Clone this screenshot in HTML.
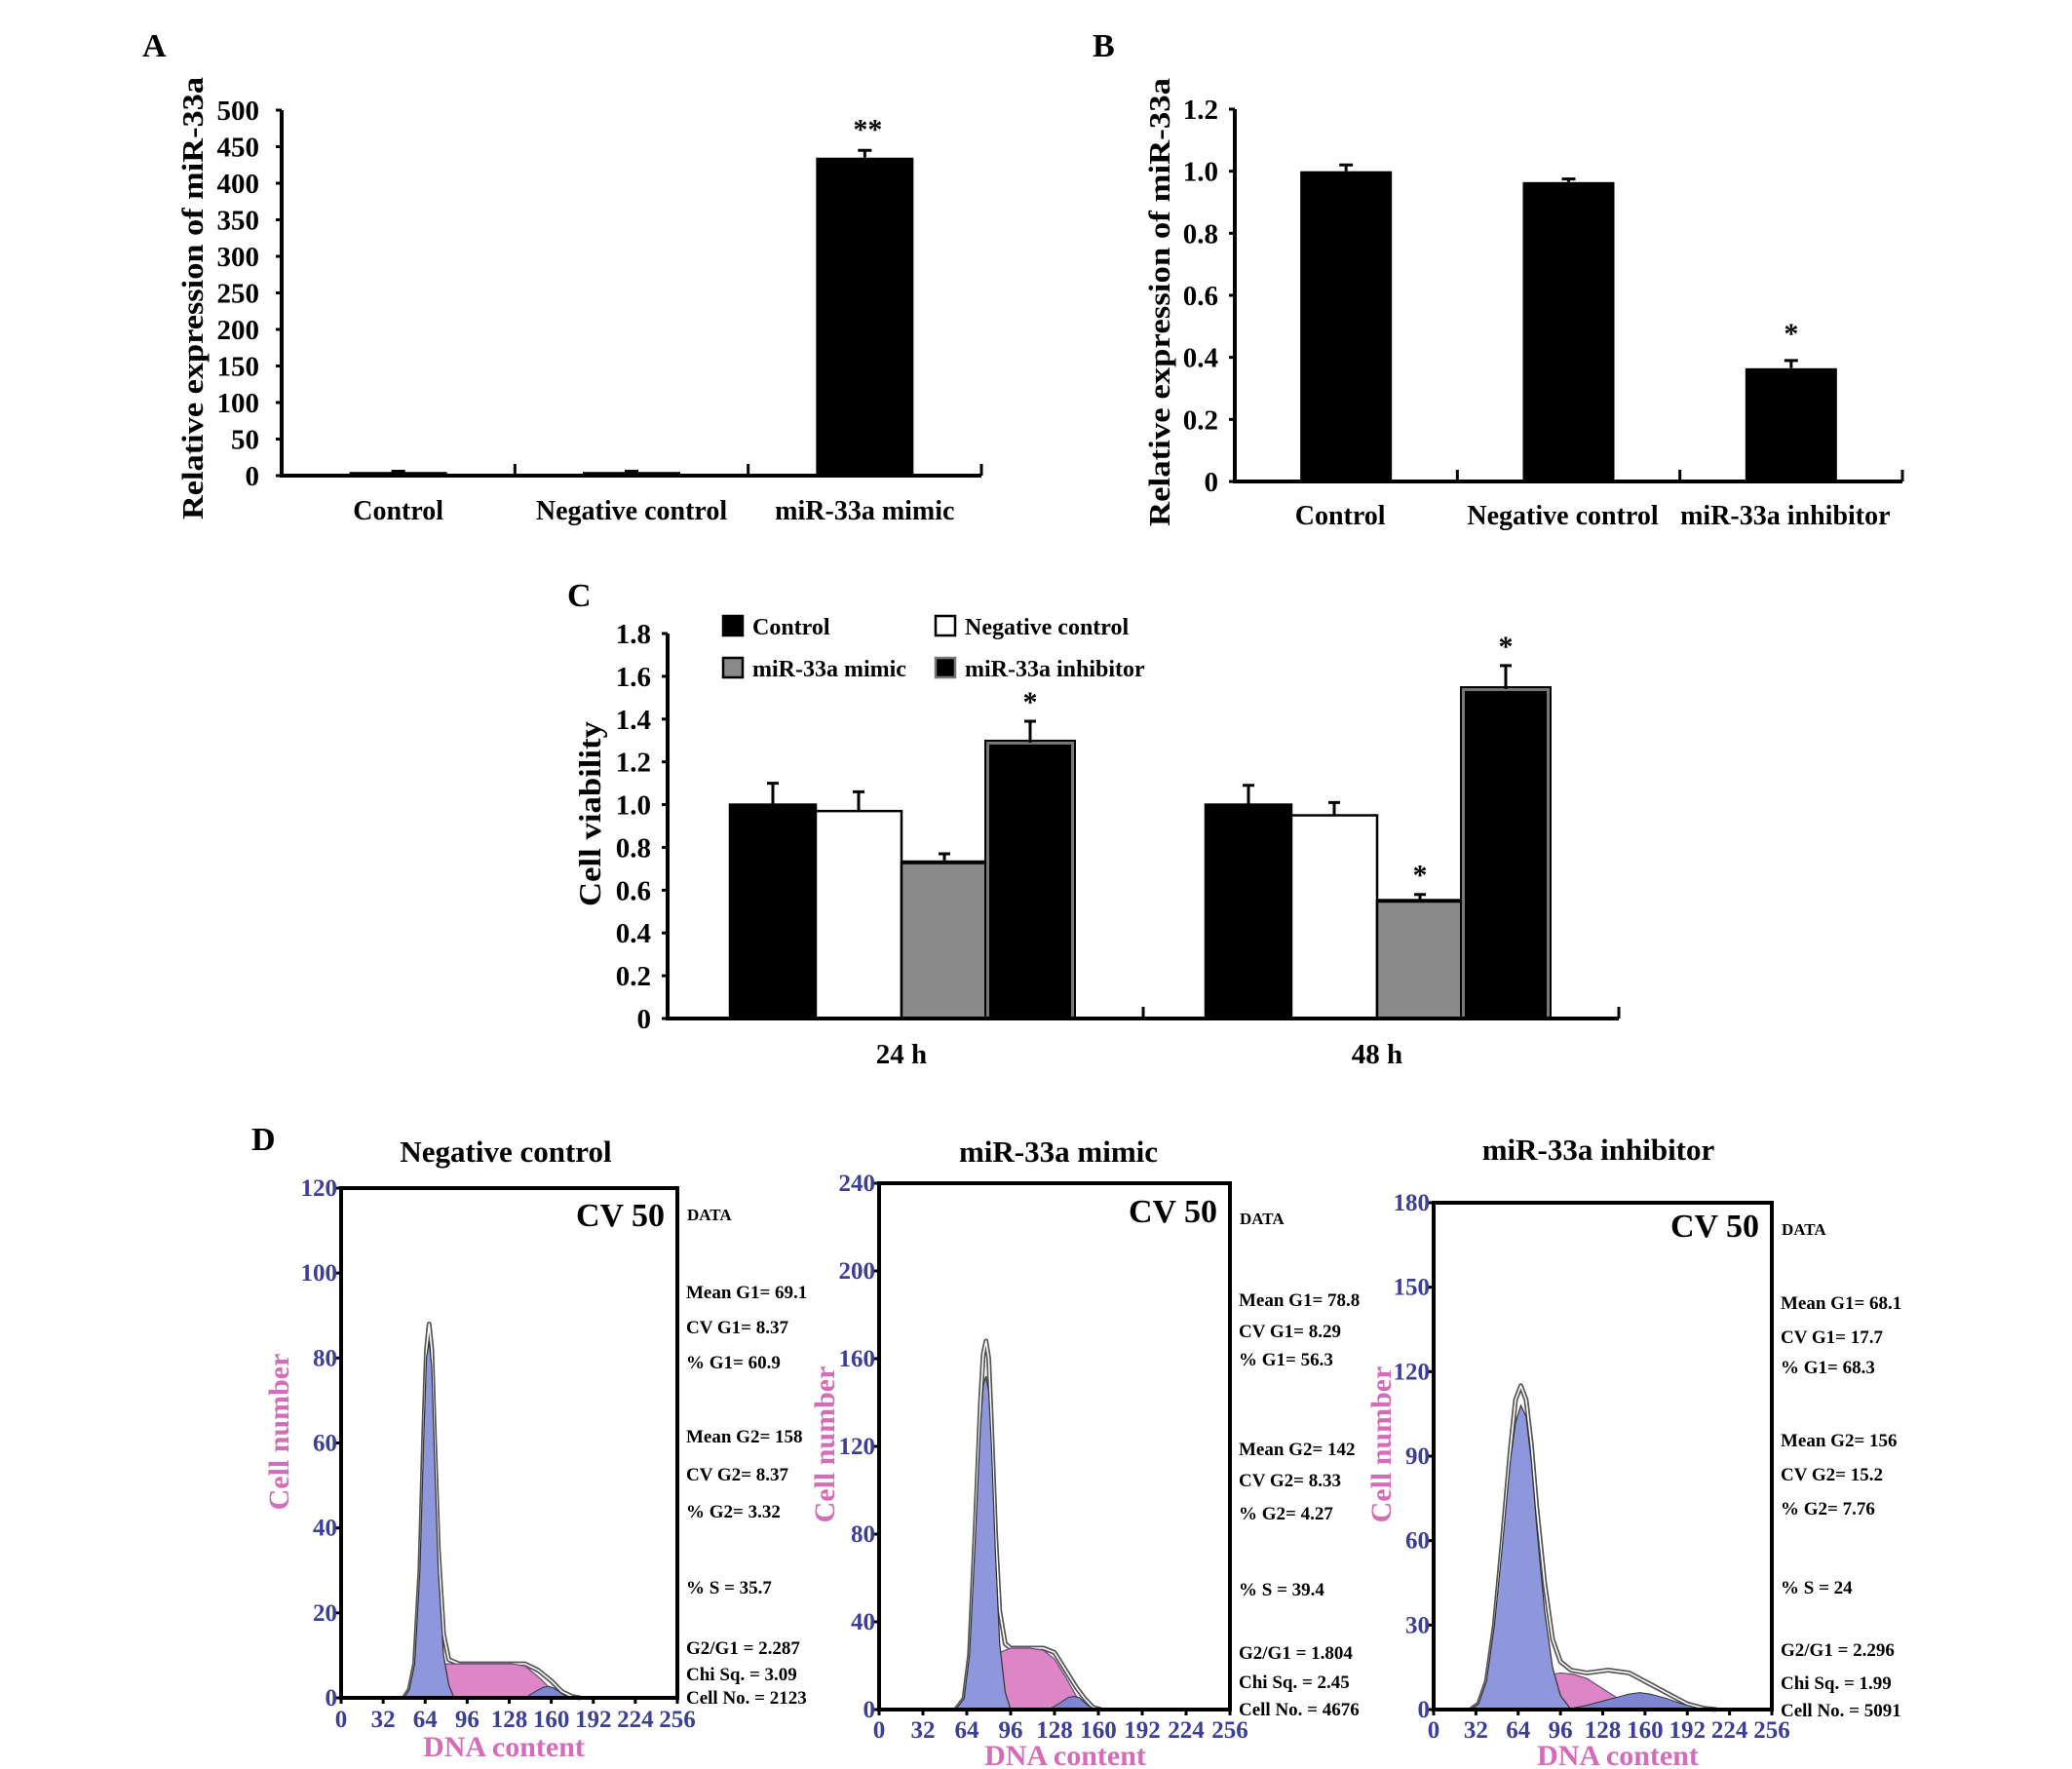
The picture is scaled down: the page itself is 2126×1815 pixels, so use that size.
<!DOCTYPE html>
<html><head><meta charset="utf-8"><style>
html,body{margin:0;padding:0;background:#fff;}
svg{display:block;}
text{font-family:"Liberation Serif",serif;font-weight:bold;}
</style></head><body>
<svg id="fig" xmlns="http://www.w3.org/2000/svg" width="2126" height="1815" viewBox="0 0 2126 1815">
<rect x="0" y="0" width="2126" height="1815" fill="#fff"/>
</svg>
<script>
// ---------- Panel A data ----------
const A_categories = ['Control', 'Negative control', 'miR-33a mimic'];
const A_values = [5, 5, 435];
const A_errTop = [6, 6, 445];
const A_ticks = [0, 50, 100, 150, 200, 250, 300, 350, 400, 450, 500];
const A_stars = ['', '', '**'];
// ---------- Panel B data ----------
const B_categories = ['Control', 'Negative control', 'miR-33a inhibitor'];
const B_values = [1.0, 0.965, 0.365];
const B_errTop = [1.02, 0.975, 0.39];
const B_ticks = [0, 0.2, 0.4, 0.6, 0.8, 1.0, 1.2];
const B_tickLabels = ['0', '0.2', '0.4', '0.6', '0.8', '1.0', '1.2'];
const B_stars = ['', '', '*'];
// ---------- Panel C data ----------
const C_groups = ['24 h', '48 h'];
const C_series = ['Control', 'Negative control', 'miR-33a mimic', 'miR-33a inhibitor'];
const C_control = [1.0, 1.0];
const C_negative = [0.97, 0.95];
const C_mimic = [0.73, 0.55];
const C_inhibitor = [1.29, 1.54];
const C_controlErr = [1.10, 1.09];
const C_negativeErr = [1.06, 1.01];
const C_mimicErr = [0.77, 0.58];
const C_inhibitorErr = [1.39, 1.65];
const C_mimicStar = [false, true];
const C_inhibitorStar = [true, true];
const C_ticks = [0, 0.2, 0.4, 0.6, 0.8, 1.0, 1.2, 1.4, 1.6, 1.8];
const C_tickLabels = ['0', '0.2', '0.4', '0.6', '0.8', '1.0', '1.2', '1.4', '1.6', '1.8'];
// ---------- Panel D data ----------
const D_xTicks = [0, 32, 64, 96, 128, 160, 192, 224, 256];
// Negative control
const D1_yTicks = [0, 20, 40, 60, 80, 100, 120];
const D1_g1x = [48, 52, 56, 60, 63, 65, 67, 69, 71, 74, 78, 82, 86];
const D1_g1y = [0, 2, 8, 30, 62, 80, 84, 78, 58, 30, 10, 3, 0];
const D1_sx = [58, 64, 70, 76, 80, 90, 110, 130, 140, 150, 160, 168];
const D1_sy = [0, 2, 5, 7, 8, 8, 8, 8, 7.5, 5, 2, 0];
const D1_g2x = [140, 148, 154, 158, 162, 168, 174];
const D1_g2y = [0, 1.5, 2.5, 2.7, 2.3, 1, 0];
const D1_tx = [48, 52, 56, 60, 63, 65, 67, 69, 71, 74, 78, 82, 90, 110, 130, 140, 150, 160, 168, 176, 182];
const D1_ty = [0, 2, 8, 30, 63, 82, 88, 82, 62, 35, 15, 9, 8, 8, 8, 8, 6.5, 4, 1.5, 0.3, 0];
const D1_stats = ['Mean G1= 69.1', 'CV G1= 8.37', '% G1= 60.9', 'Mean G2= 158', 'CV G2= 8.37', '% G2= 3.32', '% S = 35.7', 'G2/G1 = 2.287', 'Chi Sq. = 3.09', 'Cell No. = 2123'];
// mimic
const D2_yTicks = [0, 40, 80, 120, 160, 200, 240];
const D2_g1x = [56, 62, 66, 70, 74, 76, 78, 80, 82, 85, 88, 92, 96];
const D2_g1y = [0, 5, 25, 75, 130, 148, 152, 145, 120, 70, 30, 8, 0];
const D2_sx = [62, 70, 80, 88, 96, 110, 120, 128, 136, 144, 150, 156];
const D2_sy = [0, 5, 18, 26, 28, 28, 27, 23, 15, 6, 2, 0];
const D2_g2x = [124, 132, 138, 142, 146, 152, 158];
const D2_g2y = [0, 3, 5.5, 6, 5.5, 2, 0];
const D2_tx = [56, 62, 66, 70, 74, 76, 78, 80, 82, 85, 88, 92, 96, 110, 120, 128, 136, 144, 150, 156, 162];
const D2_ty = [0, 5, 25, 80, 140, 162, 168, 160, 130, 80, 45, 30, 28, 28, 28, 26, 18, 10, 5, 1, 0];
const D2_stats = ['Mean G1= 78.8', 'CV G1= 8.29', '% G1= 56.3', 'Mean G2= 142', 'CV G2= 8.33', '% G2= 4.27', '% S = 39.4', 'G2/G1 = 1.804', 'Chi Sq. = 2.45', 'Cell No. = 4676'];
// inhibitor
const D3_yTicks = [0, 30, 60, 90, 120, 150, 180];
const D3_g1x = [28, 34, 40, 46, 52, 58, 62, 66, 70, 74, 78, 84, 90, 96, 104];
const D3_g1y = [0, 2, 10, 30, 58, 88, 102, 108, 104, 88, 65, 35, 15, 5, 0];
const D3_sx = [44, 56, 70, 84, 96, 106, 116, 126, 136, 146, 156];
const D3_sy = [0, 3, 8, 12, 13, 12.5, 11, 8, 5, 2, 0];
const D3_g2x = [100, 116, 132, 148, 156, 164, 176, 188, 200, 210];
const D3_g2y = [0, 1.5, 3.5, 5.5, 6, 5.5, 4, 2, 0.5, 0];
const D3_tx = [28, 34, 40, 46, 52, 58, 62, 66, 70, 74, 78, 84, 90, 96, 104, 116, 132, 148, 160, 176, 192, 204, 214];
const D3_ty = [0, 2, 10, 30, 60, 92, 110, 115, 110, 94, 72, 45, 25, 17, 14, 13, 14, 13, 10, 6, 2, 0.5, 0];
const D3_stats = ['Mean G1= 68.1', 'CV G1= 17.7', '% G1= 68.3', 'Mean G2= 156', 'CV G2= 15.2', '% G2= 7.76', '% S = 24', 'G2/G1 = 2.296', 'Chi Sq. = 1.99', 'Cell No. = 5091'];

const NS = 'http://www.w3.org/2000/svg';
const svg = document.getElementById('fig');
function mk(tag, attrs, parent) {
  const el = document.createElementNS(NS, tag);
  for (const k in attrs) el.setAttribute(k, attrs[k]);
  (parent || svg).appendChild(el);
  return el;
}
function txt(str, attrs, parent) {
  const el = mk('text', attrs, parent);
  el.textContent = str;
  return el;
}

// ================= Panel A =================
(function () {
  const x0 = 289, x1 = 1007, y0 = 488, yTop = 113, vmax = 500;
  const yA = v => y0 - v / vmax * (y0 - yTop);
  const slot = (x1 - x0) / A_categories.length;
  const xA = i => x0 + slot * (i + 0.5);
  const g = mk('g', {});
  
  
  let t = txt('A', { x: 146, y: 58, 'font-size': 34 }, g);
  
  
  A_values.forEach((v, i) => {
    const b = mk('rect', { x: xA(i) - 50, y: yA(v), width: 100, height: y0 - yA(v), fill: '#000' }, g);
    
    
    const e = mk('path', { d: `M${xA(i)},${yA(v)}V${yA(A_errTop[i])}M${xA(i) - 7},${yA(A_errTop[i])}H${xA(i) + 7}`, stroke: '#000', 'stroke-width': 3 }, g);
    
    
    if (A_stars[i]) {
      const s = txt(A_stars[i], { x: xA(i) + 3, y: yA(A_errTop[i]) - 12, 'font-size': 30, 'text-anchor': 'middle' }, g);
      
      
    }
    const l = txt(A_categories[i], { x: xA(i), y: 533, 'font-size': 28, 'text-anchor': 'middle' }, g);
    
    
  });
  const ax = mk('path', { d: `M${x0},${yTop}V${y0 + 2}M${x0},${y0}H${x1}`, stroke: '#000', 'stroke-width': 4, fill: 'none' }, g);
  
  
  for (let i = 1; i <= A_categories.length; i++) {
    mk('line', { x1: x0 + slot * i, x2: x0 + slot * i, y1: y0, y2: y0 - 12, stroke: '#000', 'stroke-width': 3 }, g);
  }
  A_ticks.forEach(v => {
    mk('line', { x1: x0 - 6, x2: x0, y1: yA(v), y2: yA(v), stroke: '#000', 'stroke-width': 3 }, g);
    const tl = txt(String(v), { x: 266, y: yA(v) + 10, 'font-size': 29, 'text-anchor': 'end' }, g);
    
    
  });
  const yt = txt('Relative expression of miR-33a', { x: 0, y: 0, 'font-size': 31, 'text-anchor': 'middle', transform: 'translate(208,306) rotate(-90)', textLength: 454, lengthAdjust: 'spacingAndGlyphs' }, g);
  
  
})();

// ================= Panel B =================
(function () {
  const x0 = 1267, x1 = 1952, y0 = 494, yTop = 112, vmax = 1.2;
  const yB = v => y0 - v / vmax * (y0 - yTop);
  const slot = (x1 - x0) / B_categories.length;
  const xB = i => x0 + slot * (i + 0.5);
  const g = mk('g', {});
  
  
  let t = txt('B', { x: 1121, y: 58, 'font-size': 34 }, g);
  
  
  B_values.forEach((v, i) => {
    const b = mk('rect', { x: xB(i) - 47, y: yB(v), width: 94, height: y0 - yB(v), fill: '#000' }, g);
    
    
    const e = mk('path', { d: `M${xB(i)},${yB(v)}V${yB(B_errTop[i])}M${xB(i) - 7},${yB(B_errTop[i])}H${xB(i) + 7}`, stroke: '#000', 'stroke-width': 3 }, g);
    
    
    if (B_stars[i]) {
      const s = txt(B_stars[i], { x: xB(i), y: yB(B_errTop[i]) - 18, 'font-size': 30, 'text-anchor': 'middle' }, g);
      
      
    }
    const l = txt(B_categories[i], { x: xB(i) - 6, y: 538, 'font-size': 28, 'text-anchor': 'middle' }, g);
    
    
  });
  const ax = mk('path', { d: `M${x0},${yTop}V${y0 + 2}M${x0},${y0}H${x1}`, stroke: '#000', 'stroke-width': 4, fill: 'none' }, g);
  
  
  for (let i = 1; i <= B_categories.length; i++) {
    mk('line', { x1: x0 + slot * i, x2: x0 + slot * i, y1: y0, y2: y0 - 12, stroke: '#000', 'stroke-width': 3 }, g);
  }
  B_ticks.forEach((v, i) => {
    mk('line', { x1: x0 - 6, x2: x0, y1: yB(v), y2: yB(v), stroke: '#000', 'stroke-width': 3 }, g);
    const tl = txt(B_tickLabels[i], { x: 1250, y: yB(v) + 10, 'font-size': 29, 'text-anchor': 'end' }, g);
    
    
  });
  const yt = txt('Relative expression of miR-33a', { x: 0, y: 0, 'font-size': 31, 'text-anchor': 'middle', transform: 'translate(1200,310) rotate(-90)', textLength: 460, lengthAdjust: 'spacingAndGlyphs' }, g);
  
  
})();

// ================= Panel C =================
(function () {
  const x0 = 685, x1 = 1661, y0 = 1045, yTop = 650, vmax = 1.8;
  const yC = v => y0 - v / vmax * (y0 - yTop);
  const gslot = (x1 - x0) / C_groups.length;
  const gx = j => x0 + gslot * (j + 0.5) - 4;
  const bw = 88;
  const g = mk('g', {});
  
  
  let t = txt('C', { x: 582, y: 622, 'font-size': 34 }, g);
  
  
  const series = [C_control, C_negative, C_mimic, C_inhibitor];
  const errs = [C_controlErr, C_negativeErr, C_mimicErr, C_inhibitorErr];
  const fills = ['#000', '#fff', '#8a8a8a', '#000'];
  const strokes = ['#000', '#000', '#000', '#777'];
  C_groups.forEach((grp, j) => {
    series.forEach((arr, s) => {
      const v = arr[j];
      const bx = gx(j) + (s - 2) * bw;
      const b = mk('rect', { x: bx, y: yC(v), width: bw, height: y0 - yC(v), fill: fills[s], stroke: strokes[s], 'stroke-width': s === 3 ? 4 : 2.5 }, g);
      
      
      if (s === 2) mk('line', { x1: bx, x2: bx + bw, y1: yC(v), y2: yC(v), stroke: '#000', 'stroke-width': 4 }, g);
      if (s === 3) mk('rect', { x: bx - 2, y: yC(v) - 2, width: bw + 4, height: y0 - yC(v) + 2, fill: 'none', stroke: '#000', 'stroke-width': 2 }, g);
      const cx = bx + bw / 2;
      const e = mk('path', { d: `M${cx},${yC(v)}V${yC(errs[s][j])}M${cx - 6},${yC(errs[s][j])}H${cx + 6}`, stroke: '#000', 'stroke-width': 3 }, g);
      
      
      const starred = (s === 2 && C_mimicStar[j]) || (s === 3 && C_inhibitorStar[j]);
      if (starred) {
        const st = txt('*', { x: cx, y: yC(errs[s][j]) - 10, 'font-size': 30, 'text-anchor': 'middle' }, g);
        
        
      }
    });
    const l = txt(grp, { x: gx(j), y: 1091, 'font-size': 29, 'text-anchor': 'middle' }, g);
    
    
  });
  const ax = mk('path', { d: `M${x0},${yTop}V${y0 + 2}M${x0},${y0}H${x1}`, stroke: '#000', 'stroke-width': 4, fill: 'none' }, g);
  
  
  for (let j = 1; j <= C_groups.length; j++) {
    mk('line', { x1: x0 + gslot * j, x2: x0 + gslot * j, y1: y0, y2: y0 - 12, stroke: '#000', 'stroke-width': 3 }, g);
  }
  C_ticks.forEach((v, i) => {
    mk('line', { x1: x0 - 6, x2: x0, y1: yC(v), y2: yC(v), stroke: '#000', 'stroke-width': 3 }, g);
    const tl = txt(C_tickLabels[i], { x: 668, y: yC(v) + 10, 'font-size': 29, 'text-anchor': 'end' }, g);
    
    
  });
  const yt = txt('Cell viability', { x: 0, y: 0, 'font-size': 32, 'text-anchor': 'middle', transform: 'translate(616,835) rotate(-90)', textLength: 190, lengthAdjust: 'spacingAndGlyphs' }, g);
  
  
  // legend
  const legX = [742, 960], legY = [632, 675];
  C_series.forEach((name, s) => {
    const lx = legX[s % 2], ly = legY[Math.floor(s / 2)];
    const sw = mk('rect', { x: lx, y: ly, width: 20, height: 20, fill: fills[s], stroke: s === 3 ? '#777' : '#000', 'stroke-width': 2.5 }, g);
    
    
    const lt = txt(name, { x: lx + 30, y: ly + 19, 'font-size': 24 }, g);
    
    
  });
})();

// ================= Panel D =================
let dl = txt('D', { x: 258, y: 1180, 'font-size': 34 });



function histogram(cfg) {
  const g = mk('g', {});
  
  
  const { L, R, T, B, ymax } = cfg;
  const xs = v => L + v / 256 * (R - L);
  const ys = v => B - v / ymax * (B - T);
  const pathOf = (xa, ya) => {
    let d = `M${xs(xa[0])},${ys(0)}`;
    xa.forEach((x, i) => { d += `L${xs(x)},${ys(ya[i])}`; });
    return d + `L${xs(xa[xa.length - 1])},${ys(0)}Z`;
  };
  const lineOf = (xa, ya) => xa.map((x, i) => (i ? 'L' : 'M') + xs(x) + ',' + ys(ya[i])).join('');
  const ti = txt(cfg.title, { x: cfg.titleX, y: cfg.titleY, 'font-size': 31, 'text-anchor': 'middle' }, g);
  
  
  const tot = mk('path', { d: lineOf(cfg.tx, cfg.ty), fill: 'none', stroke: '#555', 'stroke-width': 5, 'stroke-linejoin': 'round' }, g);
  
  
  mk('path', { d: lineOf(cfg.tx, cfg.ty), fill: 'none', stroke: '#fff', 'stroke-width': 1.6, 'stroke-linejoin': 'round' }, g);
  const s = mk('path', { d: pathOf(cfg.sx, cfg.sy), fill: '#dc86c6', stroke: '#6a4a7a', 'stroke-width': 1.2 }, g);
  
  
  const g1 = mk('path', { d: pathOf(cfg.g1x, cfg.g1y), fill: '#8e96dc', stroke: '#333', 'stroke-width': 1.2 }, g);
  
  
  const g2 = mk('path', { d: pathOf(cfg.g2x, cfg.g2y), fill: '#7d86d2', stroke: '#333', 'stroke-width': 1 }, g);
  
  
  const box = mk('rect', { x: L, y: T, width: R - L, height: B - T, fill: 'none', stroke: '#000', 'stroke-width': 4 }, g);
  
  
  cfg.yTicks.forEach(v => {
    mk('line', { x1: L - 6, x2: L, y1: ys(v), y2: ys(v), stroke: '#000', 'stroke-width': 3 }, g);
    const tl = txt(String(v), { x: L - 4, y: ys(v) + 8, 'font-size': 25, 'text-anchor': 'end', fill: '#3b3f96' }, g);
    
    
  });
  D_xTicks.forEach(v => {
    mk('line', { x1: xs(v), x2: xs(v), y1: B, y2: B + 6, stroke: '#000', 'stroke-width': 3 }, g);
    const tl = txt(String(v), { x: xs(v), y: cfg.tickY + 2, 'font-size': 25, 'text-anchor': 'middle', fill: '#3b3f96' }, g);
    
    
  });
  const cv = txt('CV 50', { x: R - 13, y: cfg.cvY, 'font-size': 34, 'text-anchor': 'end' }, g);
  
  
  const da = txt('DATA', { x: R + 10, y: cfg.dataY, 'font-size': 17 }, g);
  
  
  cfg.stats.forEach((st, i) => {
    const e = txt(st, { x: R + 9, y: cfg.statY[i] + 7, 'font-size': 19 }, g);
    
    
  });
  const yl = txt('Cell number', { x: 0, y: 0, 'font-size': 30, 'text-anchor': 'middle', fill: '#d46cb8', transform: `translate(${cfg.ylX},${cfg.ylY}) rotate(-90)` }, g);
  
  
  const xl = txt('DNA content', { x: cfg.xlX, y: cfg.xlY, 'font-size': 30, 'text-anchor': 'middle', fill: '#d46cb8' }, g);
  
  
}
histogram({ name: 'histogram-negative-control', title: 'Negative control', titleX: 519, titleY: 1192,
  L: 350, R: 695, T: 1219, B: 1742, ymax: 120, yTicks: D1_yTicks,
  g1x: D1_g1x, g1y: D1_g1y, sx: D1_sx, sy: D1_sy, g2x: D1_g2x, g2y: D1_g2y, tx: D1_tx, ty: D1_ty,
  stats: D1_stats, statY: [1325, 1361, 1397, 1473, 1512, 1550, 1628, 1690, 1717, 1741],
  tickY: 1770, cvY: 1258, dataY: 1252, ylX: 296, ylY: 1469, xlX: 517, xlY: 1802 });
histogram({ name: 'histogram-mimic', title: 'miR-33a mimic', titleX: 1086, titleY: 1192,
  L: 902, R: 1262, T: 1214, B: 1754, ymax: 240, yTicks: D2_yTicks,
  g1x: D2_g1x, g1y: D2_g1y, sx: D2_sx, sy: D2_sy, g2x: D2_g2x, g2y: D2_g2y, tx: D2_tx, ty: D2_ty,
  stats: D2_stats, statY: [1333, 1365, 1394, 1486, 1518, 1552, 1630, 1695, 1725, 1753],
  tickY: 1781, cvY: 1254, dataY: 1256, ylX: 856, ylY: 1482, xlX: 1093, xlY: 1811 });
histogram({ name: 'histogram-inhibitor', title: 'miR-33a inhibitor', titleX: 1640, titleY: 1190,
  L: 1471, R: 1818, T: 1234, B: 1754, ymax: 180, yTicks: D3_yTicks,
  g1x: D3_g1x, g1y: D3_g1y, sx: D3_sx, sy: D3_sy, g2x: D3_g2x, g2y: D3_g2y, tx: D3_tx, ty: D3_ty,
  stats: D3_stats, statY: [1336, 1371, 1402, 1477, 1512, 1547, 1628, 1692, 1726, 1754],
  tickY: 1781, cvY: 1269, dataY: 1267, ylX: 1427, ylY: 1482, xlX: 1660, xlY: 1811 });
</script>
</body></html>
